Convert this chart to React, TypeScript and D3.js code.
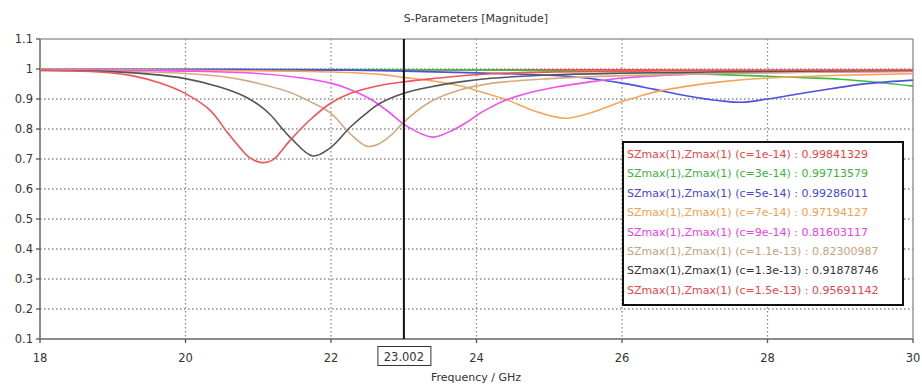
import React from 'react';
import * as d3 from 'd3';

const W = 922;
const H = 385;
const margin = { top: 39, right: 9, bottom: 46, left: 40 };

const xTicks = [18, 20, 22, 24, 26, 28, 30];
const yTicks = [0.1, 0.2, 0.3, 0.4, 0.5, 0.6, 0.7, 0.8, 0.9, 1, 1.1];
const yTickLabels = ['0.1', '0.2', '0.3', '0.4', '0.5', '0.6', '0.7', '0.8', '0.9', '1', '1.1'];

const capLabels = ['1e-14', '3e-14', '5e-14', '7e-14', '9e-14', '1.1e-13', '1.3e-13', '1.5e-13'];
const markerValues = ['0.99841329', '0.99713579', '0.99286011', '0.97194127', '0.81603117', '0.82300987', '0.91878746', '0.95691142'];
const lineColors = ['#ef4f4f', '#3fbf3f', '#4f4fdf', '#f5a55a', '#f050f0', '#d4aa84', '#555555', '#f05555'];
const textColors = ['#e84545', '#3cb43c', '#4545d8', '#f0a050', '#e840e8', '#c8a07a', '#333333', '#e84545'];
const markerFreq = 23.002;

// [frequency GHz, |S|]
const c1e14 = [[18, 0.996], [20, 0.997], [22, 0.997], [24, 0.997], [26, 0.997], [28, 0.996], [30, 0.994]];
const c3e14 = [[18, 0.998], [22, 0.998], [24, 0.997], [26, 0.991], [27, 0.984], [28, 0.976], [28.5, 0.971], [29, 0.966], [29.5, 0.956], [30, 0.943]];
const c5e14 = [[18, 0.999], [20, 0.999], [22, 0.997], [23, 0.993], [24, 0.987], [25, 0.979], [25.5, 0.97], [26, 0.953], [26.45, 0.932], [26.9, 0.91], [27.35, 0.894], [27.65, 0.889], [28, 0.9], [28.5, 0.92], [28.95, 0.937], [29.4, 0.952], [30, 0.963]];
const c7e14 = [[18, 0.999], [20, 0.996], [22, 0.99], [22.67, 0.982], [23, 0.972], [23.4, 0.96], [23.77, 0.944], [24.05, 0.925], [24.42, 0.897], [24.74, 0.865], [25.05, 0.842], [25.25, 0.836], [25.56, 0.853], [25.97, 0.889], [26.2, 0.906], [26.43, 0.922], [26.9, 0.943], [27.35, 0.957], [28, 0.97], [29, 0.979], [30, 0.984]];
const c9e14 = [[18, 0.998], [20, 0.993], [21, 0.985], [21.6, 0.97], [22, 0.953], [22.26, 0.932], [22.54, 0.9], [22.75, 0.865], [23, 0.816], [23.13, 0.797], [23.4, 0.773], [23.68, 0.797], [23.87, 0.823], [24.05, 0.853], [24.2, 0.873], [24.42, 0.898], [24.74, 0.922], [25.1, 0.94], [25.56, 0.957], [25.97, 0.969], [26.5, 0.978], [27.5, 0.986], [30, 0.992]];
const c11e13 = [[18, 0.997], [19.5, 0.99], [20, 0.985], [20.5, 0.975], [20.8, 0.963], [21.1, 0.946], [21.44, 0.922], [21.71, 0.892], [22, 0.852], [22.26, 0.785], [22.5, 0.742], [22.67, 0.752], [22.85, 0.785], [23, 0.823], [23.36, 0.89], [23.77, 0.93], [24.2, 0.952], [25, 0.968], [26, 0.978], [28, 0.988], [30, 0.993]];
const c13e13 = [[18, 0.995], [18.8, 0.993], [19.5, 0.983], [20, 0.968], [20.47, 0.94], [20.8, 0.91], [21.02, 0.878], [21.16, 0.849], [21.44, 0.772], [21.75, 0.71], [21.99, 0.737], [22.26, 0.805], [22.54, 0.863], [22.67, 0.885], [23, 0.919], [23.36, 0.94], [23.8, 0.958], [24.2, 0.969], [25, 0.98], [26, 0.986], [28, 0.992], [30, 0.995]];
const c15e13 = [[18, 0.996], [18.82, 0.99], [19.28, 0.977], [19.65, 0.953], [20, 0.918], [20.34, 0.862], [20.57, 0.79], [20.75, 0.737], [20.89, 0.703], [21.05, 0.688], [21.2, 0.697], [21.44, 0.763], [21.71, 0.83], [21.99, 0.885], [22.26, 0.918], [22.67, 0.945], [23, 0.957], [23.4, 0.968], [24.2, 0.984], [26, 0.993], [30, 0.997]];

const seriesData = [c1e14, c3e14, c5e14, c7e14, c9e14, c11e13, c13e13, c15e13];

const font = '"DejaVu Sans", Verdana, sans-serif';

export default function App() {
  const x = d3.scaleLinear().domain([18, 30]).range([margin.left, W - margin.right]);
  const y = d3.scaleLinear().domain([0.1, 1.1]).range([H - margin.bottom, margin.top]);
  const line = d3
    .line<number[]>()
    .x(d => x(d[0]))
    .y(d => y(d[1]))
    .curve(d3.curveCatmullRom.alpha(0.5));

  const x0 = margin.left;
  const x1 = W - margin.right;
  const y0 = H - margin.bottom;
  const y1 = margin.top;
  const mx = x(markerFreq);

  const legX = 623;
  const legY = 142;
  const legW = 280;
  const rowH = 19.4;

  return (
    <svg width={W} height={H} style={{ position: 'absolute', left: 0, top: 0, background: '#fff' }} fontFamily={font}>
      <rect x={0} y={0} width={W} height={H} fill="#fff" />
      <text x={476} y={22} textAnchor="middle" fontSize={11} fill="#333">S-Parameters [Magnitude]</text>

      {/* grid */}
      {xTicks.slice(1, -1).map(t => (
        <line key={'gx' + t} x1={x(t)} x2={x(t)} y1={y1} y2={y0} stroke="#8a8a8a" strokeWidth={1.3} strokeDasharray="1.5,2.5" />
      ))}
      {yTicks.slice(1, -1).map(t => (
        <line key={'gy' + t} x1={x0} x2={x1} y1={y(t)} y2={y(t)} stroke="#8a8a8a" strokeWidth={1.3} strokeDasharray="1.5,2.5" />
      ))}

      {/* frame */}
      <line x1={x0} x2={x1} y1={y1} y2={y1} stroke="#9a9a9a" strokeWidth={1.5} />
      <line x1={x1} x2={x1} y1={y1} y2={y0} stroke="#9a9a9a" strokeWidth={1.5} />
      <line x1={x0} x2={x0} y1={y1} y2={y0} stroke="#666" strokeWidth={1.5} />
      <line x1={x0} x2={x1} y1={y0} y2={y0} stroke="#666" strokeWidth={1.5} />

      {/* ticks + labels */}
      {yTicks.map((t, i) => (
        <g key={'yt' + t}>
          <line x1={x0 - 4} x2={x0} y1={y(t)} y2={y(t)} stroke="#555" strokeWidth={1.3} />
          <text x={33} y={y(t) + 4} textAnchor="end" fontSize={11.5} fill="#333">{yTickLabels[i]}</text>
        </g>
      ))}
      {xTicks.map(t => (
        <g key={'xt' + t}>
          <line x1={x(t)} x2={x(t)} y1={y0} y2={y0 + 4} stroke="#555" strokeWidth={1.3} />
          <text x={x(t)} y={362} textAnchor="middle" fontSize={11.5} fill="#333">{t}</text>
        </g>
      ))}
      <text x={476} y={381} textAnchor="middle" fontSize={11} fill="#333">Frequency / GHz</text>

      {/* curves */}
      {seriesData.map((s, i) => (
        <path key={'s' + i} d={line(s) || ''} fill="none" stroke={lineColors[i]} strokeWidth={1.6} />
      ))}

      {/* marker */}
      <line x1={mx} x2={mx} y1={y1} y2={y0} stroke="#111" strokeWidth={2} />
      <rect x={mx - 26} y={346.5} width={53} height={19} fill="#fff" stroke="#333" strokeWidth={1} />
      <text x={mx} y={360.5} textAnchor="middle" fontSize={11.5} fill="#333">{markerFreq.toFixed(3)}</text>

      {/* legend */}
      <rect x={legX} y={legY} width={legW} height={163} fill="#fff" stroke="#111" strokeWidth={2} />
      {capLabels.map((c, i) => (
        <text key={'lg' + i} x={legX + 4} y={legY + 16 + i * rowH} fontSize={11} fill={textColors[i]}>
          {`SZmax(1),Zmax(1) (c=${c}) : ${markerValues[i]}`}
        </text>
      ))}
    </svg>
  );
}
